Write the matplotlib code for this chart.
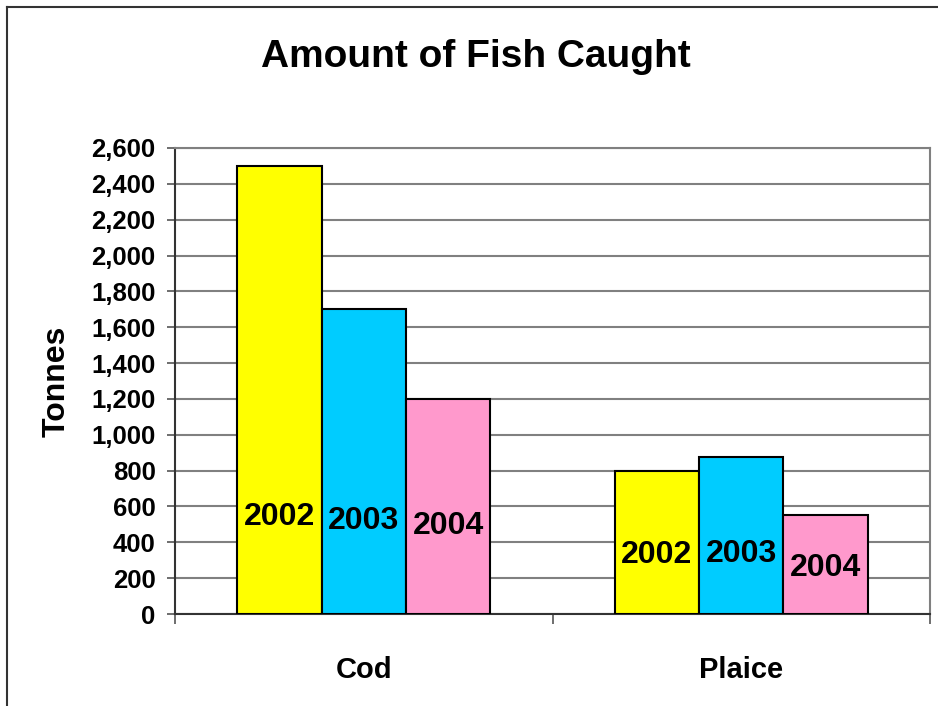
import numpy as np
import matplotlib
matplotlib.use("Agg")
import matplotlib.pyplot as plt
from matplotlib.lines import Line2D

# data
fish = ["Cod", "Plaice"]
years = ["2002", "2003", "2004"]
tonnes_2002 = [2500, 800]
tonnes_2003 = [1700, 875]
tonnes_2004 = [1200, 555]
# heights (in tonnes) where the year labels sit inside the bars
label_y_2002 = [540, 330]
label_y_2003 = [518, 335]
label_y_2004 = [490, 257]
y_ticks = list(range(0, 2601, 200))

plt.rcParams.update({"font.family": ["Liberation Sans", "DejaVu Sans"], "font.weight": "bold"})
colors = ["#FFFF00", "#00CCFF", "#FF99CC"]

fig = plt.figure(figsize=(9.38, 7.06), dpi=100)
ax = fig.add_axes([0.1866, 0.1303, 0.8049, 0.6601])

x = np.arange(len(fish))
w = 0.2235
series = [tonnes_2002, tonnes_2003, tonnes_2004]
labels_y = [label_y_2002, label_y_2003, label_y_2004]
for i, (vals, ly, yr) in enumerate(zip(series, labels_y, years)):
    xs = x + (i - 1) * w
    ax.bar(xs, vals, width=w, color=colors[i], edgecolor="black", linewidth=1.5, zorder=3)
    for xi, yi in zip(xs, ly):
        ax.text(xi, yi, yr, ha="center", va="center", fontsize=23, fontweight="bold", zorder=4)

ax.set_xlim(-0.5, 1.5)
ax.set_ylim(0, 2600)
ax.set_yticks(y_ticks)
ax.set_yticklabels([f"{v:,}" for v in y_ticks])
ax.set_xticks(x)
ax.set_xticklabels(fish)
ax.set_xticks([-0.5, 0.5, 1.5], minor=True)
ax.tick_params(axis="x", which="major", length=0, pad=30, labelsize=21)
ax.tick_params(axis="x", which="minor", length=7, width=1.2, color="#555555")
ax.tick_params(axis="y", length=6, width=1.2, pad=8, labelsize=18.5, color="#555555")
ax.grid(axis="y", color="#808080", linewidth=1.5, zorder=0)
ax.set_ylabel("Tonnes", fontsize=23, fontweight="bold", labelpad=14)

for s in ["top", "right"]:
    ax.spines[s].set_color("#808080")
    ax.spines[s].set_linewidth(1.5)
ax.spines["left"].set_color("#333333")
ax.spines["bottom"].set_color("#333333")
ax.spines["left"].set_linewidth(1.5)
ax.spines["bottom"].set_linewidth(1.5)

fig.text(0.507, 0.919, "Amount of Fish Caught", ha="center", va="center", fontsize=28, fontweight="bold")

# chart area border (left and top edges visible)
fig.add_artist(Line2D([0.0075, 0.0075], [0.0, 0.99], transform=fig.transFigure, color="#333333", linewidth=1.5))
fig.add_artist(Line2D([0.0075, 1.0], [0.99, 0.99], transform=fig.transFigure, color="#333333", linewidth=1.5))

fig.savefig("out.png", dpi=100)
